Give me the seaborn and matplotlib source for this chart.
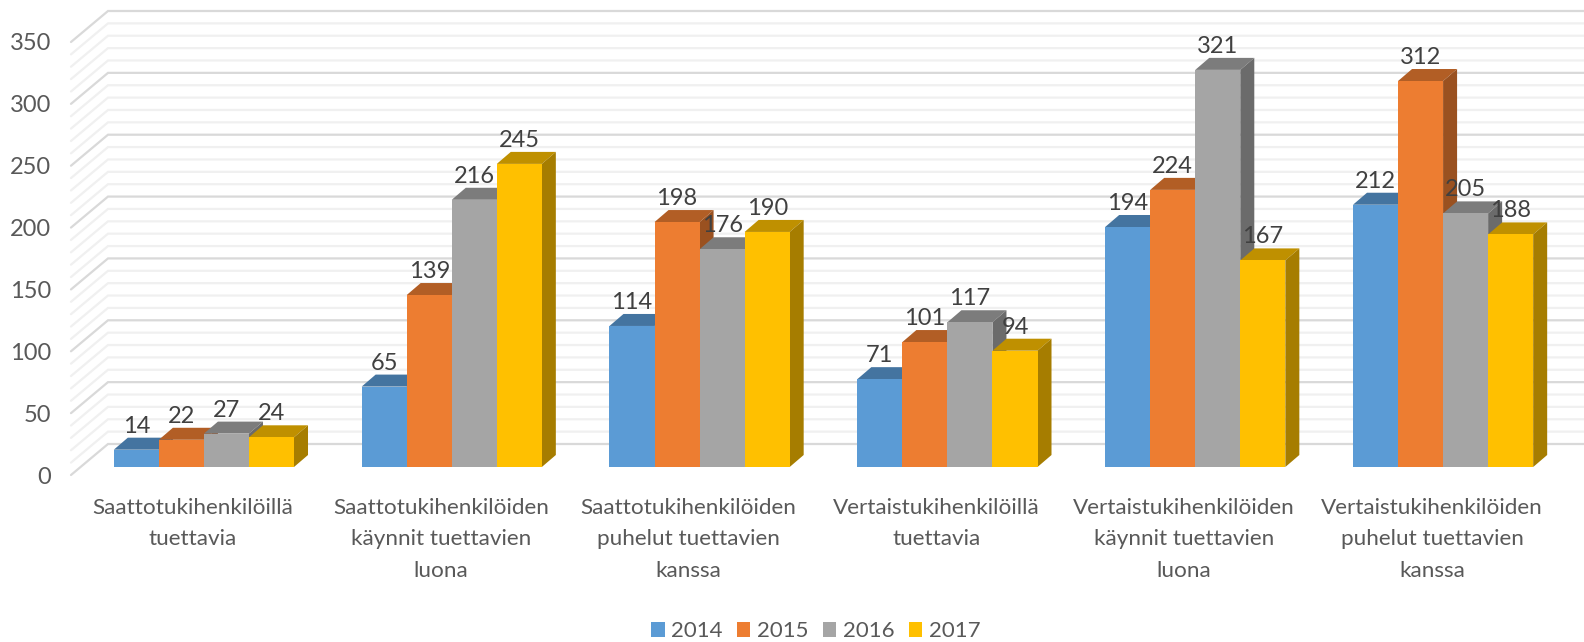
#!/usr/bin/env python3

import numpy as np
import pandas as pd
import matplotlib
matplotlib.use("Agg")
import matplotlib.pyplot as plt
import seaborn as sns
from matplotlib.patches import Polygon
from matplotlib.transforms import IdentityTransform, ScaledTranslation

categories = [
    "Saattotukihenkilöillä\ntuettavia",
    "Saattotukihenkilöiden\nkäynnit tuettavien\nluona",
    "Saattotukihenkilöiden\npuhelut tuettavien\nkanssa",
    "Vertaistukihenkilöillä\ntuettavia",
    "Vertaistukihenkilöiden\nkäynnit tuettavien\nluona",
    "Vertaistukihenkilöiden\npuhelut tuettavien\nkanssa",
]
years = ["2014", "2015", "2016", "2017"]
values_2014 = [14, 65, 114, 71, 194, 212]
values_2015 = [22, 139, 198, 101, 224, 312]
values_2016 = [27, 216, 176, 117, 321, 205]
values_2017 = [24, 245, 190, 94, 167, 188]
colors = ["#5B9BD5", "#ED7D31", "#A5A5A5", "#FFC000"]
y_ticks = [0, 50, 100, 150, 200, 250, 300, 350]
y_minor = 10

TEXT = "#595959"
DPI = 100
# 3d look, all in pixels
BAR_DX, BAR_DY = 14, 12      # depth of one bar
WALL_FRONT = (-9, -8)        # wall/floor front edge relative to bar plane
WALL_BACK = (28, 23)         # back wall relative to bar plane

sns.set_theme(style="white")
plt.rcParams["font.family"] = ["Lato", "DejaVu Sans"]

df = pd.DataFrame({
    "category": categories * 4,
    "year": [y for y in years for _ in categories],
    "value": values_2014 + values_2015 + values_2016 + values_2017,
})

fig = plt.figure(figsize=(15.84, 6.42), dpi=DPI)
ax = fig.add_axes([80 / 1584, (642 - 467) / 642, 1487 / 1584, 433 / 642])

sns.barplot(data=df, x="category", y="value", hue="year", palette=colors,
            width=0.727, gap=0, saturation=1, linewidth=0, errorbar=None, ax=ax)
ax.set_xlim(-0.5, 5.5)
ax.set_ylim(0, y_ticks[-1])
ax.set_xlabel("")
ax.set_ylabel("")
sns.despine(ax=ax, left=True, bottom=True)
ax.patch.set_visible(False)
fig.canvas.draw()

px = IdentityTransform()

# side wall and back wall grid
for v in range(0, y_ticks[-1] + 1, y_minor):
    x0, y0 = ax.transData.transform((-0.5, v))
    major = v in y_ticks
    c = "#D9D9D9" if major else "#F0F0F0"
    xs = [x0 + WALL_FRONT[0], x0 + WALL_BACK[0], 1600]
    ys = [y0 + WALL_FRONT[1], y0 + WALL_BACK[1], y0 + WALL_BACK[1]]
    ax.plot(xs, ys, color=c, lw=1.6, transform=px, clip_on=False, zorder=1,
            solid_joinstyle="miter")

# bar tops and sides, left to right so the next bar covers the side before it
bars = [b for b in ax.patches if b.get_height() > 0]
bars = sorted(bars, key=lambda b: b.get_x())
for i, bar in enumerate(bars):
    (xl, yb), (xr, yt) = ax.transData.transform(
        [(bar.get_x(), 0), (bar.get_x() + bar.get_width(), bar.get_height())])
    base = np.array(bar.get_facecolor()[:3])
    z = 3 + i
    top = Polygon([(xl, yt), (xr, yt), (xr + BAR_DX, yt + BAR_DY), (xl + BAR_DX, yt + BAR_DY)],
                  closed=True, fc=base * 0.75, lw=0, transform=px, clip_on=False, zorder=z)
    side = Polygon([(xr, yb), (xr + BAR_DX, yb + BAR_DY), (xr + BAR_DX, yt + BAR_DY), (xr, yt)],
                   closed=True, fc=base * 0.65, lw=0, transform=px, clip_on=False, zorder=z)
    ax.add_patch(top)
    ax.add_patch(side)
    bar.set_zorder(z + 0.5)
    # value label sits over the bar top
    ax.text(xl + (xr - xl) / 2, yt + 23.5, f"{bar.get_height():.0f}", transform=px,
            ha="center", va="center", fontsize=17, color="#404040", zorder=50, clip_on=False)

ax.set_yticks(y_ticks)
ax.tick_params(axis="y", length=0, pad=21, labelsize=17, labelcolor=TEXT)
ax.tick_params(axis="x", length=0, pad=22.5, labelsize=16.2, labelcolor=TEXT)
for lab in ax.get_yticklabels():
    lab.set_transform(lab.get_transform() + ScaledTranslation(0, -8 / DPI, fig.dpi_scale_trans))
for lab in ax.get_xticklabels():
    lab.set_transform(lab.get_transform() + ScaledTranslation(-11 / DPI, 0, fig.dpi_scale_trans))
    lab.set_linespacing(1.7)

sns.move_legend(ax, "lower center", bbox_to_anchor=(0.515, -0.03), bbox_transform=fig.transFigure,
                ncol=4, title=None, frameon=False, fontsize=16, handlelength=0.62,
                handleheight=0.62, columnspacing=0.63, handletextpad=0.3, labelcolor=TEXT)

fig.savefig("out.png", dpi=DPI)
